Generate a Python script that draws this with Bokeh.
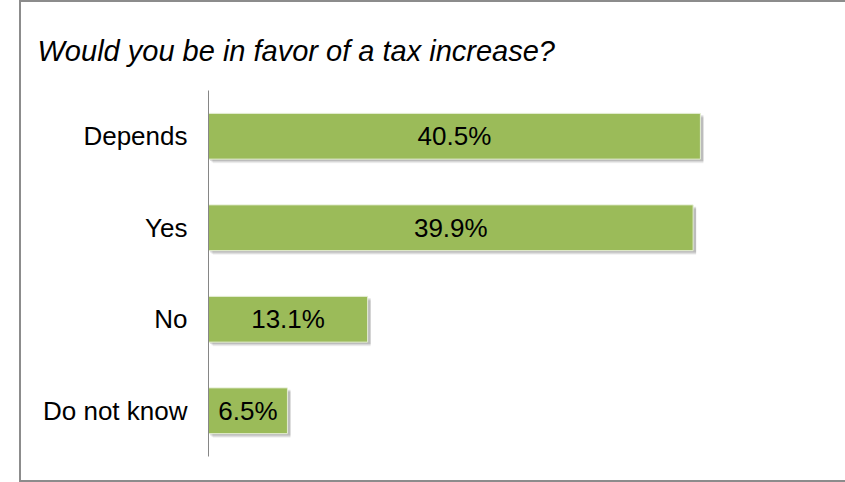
from bokeh.plotting import figure
from bokeh.models import ColumnDataSource, FactorRange, Range1d, LabelSet
from bokeh.transform import dodge
from bokeh.core.properties import value
from bokeh.embed import file_html
from bokeh.resources import INLINE

categories = ["Depends", "Yes", "No", "Do not know"]
values = [40.5, 39.9, 13.1, 6.5]
value_labels = ["40.5%", "39.9%", "13.1%", "6.5%"]
title_text = "Would you be in favor of a tax increase?"

FONT = "Liberation Sans"

src = ColumnDataSource(dict(
    cat=categories,
    val=values,
    mid=[v / 2 for v in values],
    shadow=[v + 0.25 for v in values],
    lab=value_labels,
))

p = figure(width=826, height=482, output_backend="svg", toolbar_location=None,
           y_range=FactorRange(factors=categories[::-1], range_padding=0),
           x_range=Range1d(0, 50.8),
           min_border_left=187, min_border_right=22,
           min_border_top=88, min_border_bottom=28,
           title=title_text)

p.styles = {
    "margin-left": "19px",
    "border-left": "2px solid #8c8c8c",
    "border-top": "2px solid #8c8c8c",
    "border-bottom": "2px solid #8c8c8c",
    "border-right": "0px none",
}

p.title.text_font = FONT
p.title.text_font_style = "italic"
p.title.text_font_size = "29px"
p.title.text_color = "#000000"
p.title.align = "left"
p.title.offset = -171
p.title.standoff = 47

p.xaxis.visible = False
p.xgrid.visible = False
p.ygrid.visible = False
p.outline_line_color = None
p.background_fill_color = "white"
p.border_fill_color = "white"

ax = p.yaxis[0]
ax.axis_line_color = "#868686"
ax.axis_line_width = 1
ax.major_tick_line_color = None
ax.minor_tick_line_color = None
ax.major_tick_out = 0
ax.major_tick_in = 0
ax.major_label_standoff = 21
ax.major_label_text_font = FONT
ax.major_label_text_font_size = "26px"
ax.major_label_text_color = "#000000"

# soft shadow
for dx, dy, a in [(0.35, -0.045, 0.06), (0.25, -0.033, 0.10), (0.12, -0.02, 0.12)]:
    p.hbar(y=dodge("cat", dy, range=p.y_range), left=dx, right="shadow", height=0.5,
           source=src, fill_color="#000000", fill_alpha=a, line_color=None)

p.hbar(y="cat", left=0, right="val", height=0.5, source=src,
       fill_color="#9BBB59", line_color="#e4edd3", line_width=1)

labels = LabelSet(x="mid", y="cat", text="lab", source=src,
                  text_align="center", text_baseline="middle",
                  text_font=value(FONT), text_font_size="26px", text_color="#000000")
p.add_layout(labels)

open("out.html", "w").write(file_html(p, INLINE))
